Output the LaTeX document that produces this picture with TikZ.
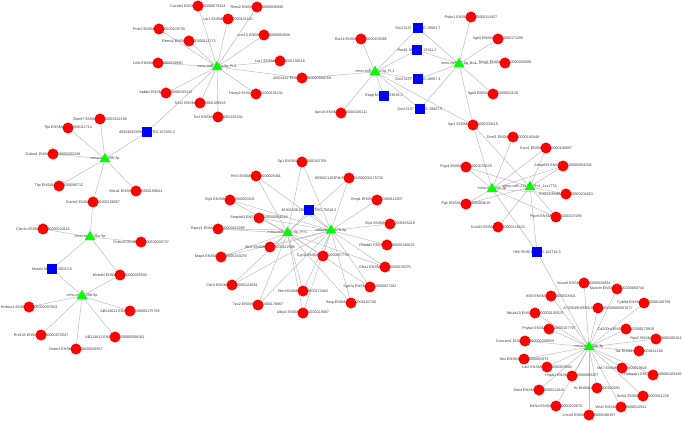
\documentclass[tikz,border=0pt]{standalone}
\usepackage{fontspec}
\setmainfont{Liberation Sans}
\usetikzlibrary{shapes.geometric}
\pgfdeclarelayer{bglayer}
\pgfdeclarelayer{edgelayer}
\pgfdeclarelayer{lablayer}
\pgfsetlayers{bglayer,edgelayer,lablayer,main}
\tikzset{
  gene/.style={circle,fill=red,draw=none,minimum size=11pt,inner sep=0pt},
  mirna/.style={regular polygon,regular polygon sides=3,fill=green,draw=none,minimum size=12.5pt,inner sep=0pt},
  lnc/.style={rectangle,fill=blue,draw=none,minimum size=10pt,inner sep=0pt},
  lbl/.style={font=\fontsize{3.7}{4}\selectfont,text=black!75,inner sep=0pt},
  edgeline/.style={draw=black!27,line width=0.45pt},
}
\newcommand{\gn}[5]{%
  \begin{pgfonlayer}{lablayer}\node[lbl] (#2t) at (#3,#4) {#5};\end{pgfonlayer}%
  \node[#1] (#2) at (#3,#4) {};}
\newcommand{\ed}[2]{\foreach \tg in {#2}{\draw[edgeline] (#1) -- (\tg);}}
\begin{document}
\begin{tikzpicture}[x=1pt,y=-1pt]
\begin{pgfonlayer}{bglayer}
\fill[white] (0,0) rectangle (683,422);
\end{pgfonlayer}
\useasboundingbox (0,0) rectangle (683,422);
% ---- top-left cluster
\gn{mirna}{rtwo}{217}{67}{mmu-miR-125a-5p\_R-2}
\gn{gene}{cacnb}{198}{6}{Cacnb4 ENSMUSG00000079324}
\gn{gene}{rims}{257}{7}{Rims2 ENSMUSG00000036980}
\gn{gene}{lara}{228}{19}{Lar1 ENSMUSG00000131120}
\gn{gene}{prdx}{159}{29}{Prdx2 ENSMUSG00000109730}
\gn{gene}{rbms}{189}{41}{Rbms2 ENSMUSG00000111773}
\gn{gene}{lrrc}{264}{35}{Lrrc15 ENSMUSG00000064606}
\gn{gene}{lilrb}{158}{63}{Lilrb ENSMUSG00000019960}
\gn{gene}{larb}{280}{61}{Lar1 ENSMUSG00000136616}
\gn{gene}{apbb}{166}{93}{Apbb2 ENSMUSG00000105412}
\gn{gene}{hivep}{256}{94}{Hivep2 ENSMUSG00000101130}
\gn{gene}{tcf}{200}{103}{Tcf12 ENSMUSG00000109918}
\gn{gene}{tsr}{218}{117}{Tsr1 ENSMUSG00000126230}
\gn{gene}{aifive}{302}{78}{AI504432 ENSMUSG00000068758}
\gn{lnc}{sqa}{147}{132}{4930409I05Rik MSTRG.103358.2}
% ---- top-middle cluster
\gn{mirna}{rone}{375}{72}{mmu-miR-145a-5p\_R-1}
\gn{gene}{rai}{361}{39}{Rai14 ENSMUSG00000100385}
\gn{lnc}{gmseven}{418}{28}{Gm23137 MSTRG.19687.7}
\gn{lnc}{rock}{417}{50}{Rock1 MSTRG.13911.2}
\gn{lnc}{gmthree}{418}{79}{Gm23137 MSTRG.19687.3}
\gn{lnc}{eapp}{384}{96}{Eapp MSTRG.23636.2}
\gn{lnc}{gmfive}{420}{109}{Gm23137 MSTRG.19687.5}
\gn{gene}{apc}{341}{113}{Apc1b ENSMUSG00000106111}
% ---- top-right cluster
\gn{mirna}{rthree}{459}{64}{mmu-miR-32-5p\_R+1}
\gn{gene}{rsbn}{471}{17}{Rsbn1 ENSMUSG00000111927}
\gn{gene}{sgk}{498}{39}{Sgk3 ENSMUSG00000171265}
\gn{gene}{ntng}{505}{63}{Ntng2 ENSMUSG00000025000}
\gn{gene}{itga}{493}{94}{Itga5 ENSMUSG00000021126}
\gn{gene}{itgr}{473}{125}{Itgr1 ENSMUSG00000203615}
% ---- right-middle cluster
\gn{mirna}{hubA}{492}{189}{mmu-miR-21c-3p}
\gn{mirna}{hubB}{530}{187}{mmu-miR-211-5p\_R+1\_1ss17TA}
\gn{gene}{dmtf}{513}{137}{Dmtf1 ENSMUSG00000183448}
\gn{gene}{gcnt}{546}{148}{Gcnt1 ENSMUSG00000100897}
\gn{gene}{fcgr}{466}{167}{Fcgr4 ENSMUSG00000078025}
\gn{gene}{arhgef}{563}{166}{Arhgef39 ENSMUSG00000054038}
\gn{gene}{kctdb}{566}{194}{Kctd18 ENSMUSG00000104663}
\gn{gene}{pgk}{466}{204}{Pgk ENSMUSG00000003610}
\gn{gene}{plpml}{556}{217}{Plpml ENSMUSG00000107299}
\gn{gene}{kctda}{498}{227}{Kctd10 ENSMUSG00000114623}
\gn{lnc}{sqh}{537}{252}{H66-5K90 MSTRG.102744.3}
% ---- bottom-right cluster
\gn{mirna}{hubC}{589}{347}{mmu-miR-346-3p}
\gn{gene}{nsun}{584}{283}{Nsun6 ENSMUSG00000026834}
\gn{gene}{myadm}{617}{289}{Myadm ENSMUSG00000068744}
\gn{gene}{ifi}{551}{296}{Ifi30 ENSMUSG00000023601}
\gn{gene}{arik}{598}{308}{A730049H05Rik ENSMUSG00000057677}
\gn{gene}{cyb}{644}{303}{Cyb5d ENSMUSG00000106758}
\gn{gene}{nduf}{535}{313}{Ndufa10 ENSMUSG00000105023}
\gn{gene}{cdtwo}{626}{329}{Cd200r4 ENSMUSG00000175819}
\gn{gene}{phyk}{549}{329}{Phykpl ENSMUSG00000107797}
\gn{gene}{ceacam}{525}{341}{Ceacam1 ENSMUSG00000208059}
\gn{gene}{rpn}{656}{339}{Rpn2 ENSMUSG00000200104}
\gn{gene}{taz}{639}{351}{Taz ENSMUSG00000114160}
\gn{gene}{nes}{524}{359}{Nes ENSMUSG00000004973}
\gn{gene}{lat}{547}{367}{Lat2 ENSMUSG00000209560}
\gn{gene}{nol}{622}{368}{Nol7 ENSMUSG00000029620}
\gn{gene}{rabgap}{653}{375}{Rabgap1 ENSMUSG00000109486}
\gn{gene}{hspb}{572}{376}{Hspb1 ENSMUSG00000005227}
\gn{gene}{dok}{539}{390}{Dok4 ENSMUSG00000212910}
\gn{gene}{hr}{597}{388}{Hr ENSMUSG00000022091}
\gn{gene}{sntb}{643}{396}{Sntb1 ENSMUSG00000061229}
\gn{gene}{eef}{556}{406}{Eef1d ENSMUSG00000100675}
\gn{gene}{wnt}{621}{407}{Wnt2 ENSMUSG00000010941}
\gn{gene}{lrrcf}{589}{415}{Lrrc40 ENSMUSG00000106397}
% ---- left clusters
\gn{mirna}{hubD}{105}{159}{mmu-miR-298-3p}
\gn{gene}{slamf}{100}{119}{Slamf7 ENSMUSG00000162195}
\gn{gene}{tfpia}{68}{128}{Tfpi ENSMUSG00000111714}
\gn{gene}{gabra}{53}{154}{Gabra1 ENSMUSG00000202246}
\gn{gene}{tfpib}{59}{186}{Tfpi ENSMUSG00000090712}
\gn{gene}{mxra}{136}{191}{Mxra1 ENSMUSG00000109644}
\gn{gene}{zranb}{93}{202}{Zranb2 ENSMUSG00000106057}
\gn{mirna}{hubE}{90}{237}{mmu-miR-135a-5p}
\gn{gene}{clec}{43}{229}{Clec4n ENSMUSG00000024116}
\gn{gene}{colec}{141}{242}{Colec10 ENSMUSG00000039737}
\gn{lnc}{malat}{52}{269}{Malat1 MSTRG.56013.6}
\gn{gene}{mvk}{120}{275}{Mvkafd ENSMUSG00000025582}
\gn{mirna}{hubF}{82}{296}{mmu-miR-129b-5p}
\gn{gene}{hmbox}{29}{307}{Hmbox1 ENSMUSG00000007943}
\gn{gene}{aba}{130}{311}{AB124611 ENSMUSG00000175769}
\gn{gene}{rnf}{41}{335}{Rnf138 ENSMUSG00000072947}
\gn{gene}{abb}{115}{337}{AB124611 ENSMUSG00000098361}
\gn{gene}{dram}{76}{349}{Dram2 ENSMUSG00000029557}
% ---- central cluster
\gn{mirna}{hubG}{287.5}{233}{mmu-miR-669c-5p\_R+1}
\gn{mirna}{hubH}{331}{230.5}{mmu-miR-467b-5p}
\gn{gene}{spone}{302}{162}{Sp1 ENSMUSG00000163709}
\gn{gene}{rfc}{256}{176}{Rfc5 ENSMUSG00000005461}
\gn{gene}{jrik}{349}{178}{9930021J03Rik ENSMUSG00000175726}
\gn{gene}{styk}{230}{200}{Styk ENSMUSG00000000105}
\gn{gene}{emp}{377}{200}{Emp1 ENSMUSG00000111907}
\gn{lnc}{sqc}{309}{210.5}{4930430E12Rik MSTRG.75016.2}
\gn{gene}{serp}{259}{218}{Serpinb2 ENSMUSG00000064018}
\gn{gene}{rspry}{218}{229}{Rspry1 ENSMUSG00000211985}
\gn{gene}{clp}{390}{224}{Clp1 ENSMUSG00000165219}
\gn{gene}{rhbdd}{387}{245}{Rhbdd1 ENSMUSG00000140025}
\gn{gene}{sbf}{270}{247}{Sbf2 ENSMUSG00000162585}
\gn{gene}{map}{221}{257}{Map4 ENSMUSG00000163079}
\gn{gene}{cgnl}{323}{256}{Cgnl1 ENSMUSG00000057744}
\gn{gene}{gfra}{385}{267}{Gfra1 ENSMUSG00000025075}
\gn{gene}{cdv}{232}{285}{Cdv3 ENSMUSG00000124834}
\gn{gene}{dbnl}{303}{291}{Dbnl ENSMUSG00000173403}
\gn{gene}{sgo}{370}{287}{Sgo2a ENSMUSG00000027262}
\gn{gene}{tpx}{258}{305}{Tpx2 ENSMUSG00000176667}
\gn{gene}{swip}{351}{303}{Swip ENSMUSG00000162746}
\gn{gene}{ulbp}{303}{313}{Ulbp1 ENSMUSG00000218067}
% ---- connectors
\begin{pgfonlayer}{edgelayer}
\ed{rtwo}{cacnb,rims,lara,prdx,rbms,lrrc,lilrb,larb,apbb,hivep,tcf,tsr,aifive,sqa}
\ed{sqa}{hubD}
\ed{rone}{rai,aifive,apc,gmseven,rock,gmthree,eapp,gmfive,itgr}
\ed{rthree}{gmseven,rock,gmthree,gmfive,rsbn,sgk,ntng,itga,itgr}
\ed{hubA}{itgr,dmtf,gcnt,fcgr,arhgef,kctdb,pgk,plpml,sqh}
\ed{hubB}{itgr,gcnt,fcgr,arhgef,kctdb,pgk,plpml,kctda,sqh}
\ed{sqh}{hubC}
\ed{hubC}{nsun,myadm,ifi,arik,cyb,nduf,cdtwo,phyk,ceacam,rpn,taz,nes,lat,nol,rabgap,hspb,dok,hr,sntb,eef,wnt,lrrcf}
\ed{hubD}{slamf,tfpia,gabra,tfpib,mxra,zranb}
\ed{hubE}{zranb,clec,colec,malat,mvk}
\ed{hubF}{malat,mvk,hmbox,aba,rnf,abb,dram}
\ed{hubG}{spone,rfc,jrik,styk,sqc,serp,rspry,sbf,map,cgnl,gfra,cdv,dbnl,sgo,tpx,swip,ulbp}
\ed{hubH}{spone,rfc,jrik,styk,emp,sqc,serp,rspry,clp,rhbdd,sbf,map,cgnl,gfra,cdv,dbnl,sgo,tpx,swip,ulbp}
\end{pgfonlayer}
\end{tikzpicture}
\end{document}
